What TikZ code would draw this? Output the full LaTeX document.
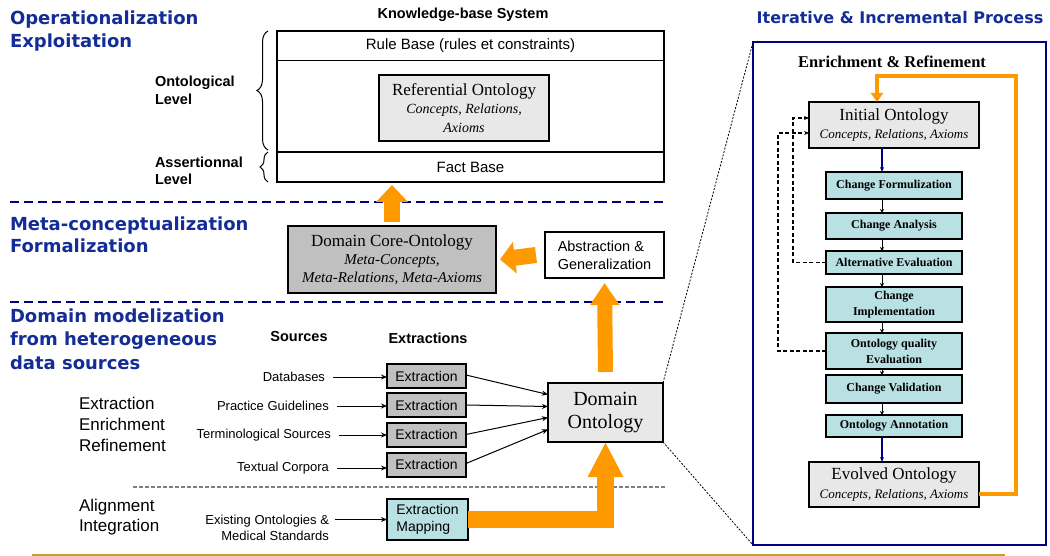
\documentclass[tikz,border=0pt]{standalone}
\usepackage{fontspec}
\setmainfont{Liberation Serif}
\setsansfont{Liberation Sans}
\newfontfamily\headfont{DejaVu Sans}
\usetikzlibrary{arrows.meta,decorations.pathreplacing}
\definecolor{headblue}{RGB}{20,45,150}
\definecolor{navyc}{RGB}{0,0,128}
\definecolor{orangec}{RGB}{255,153,0}
\definecolor{cyanfill}{RGB}{185,225,228}
\definecolor{midgray}{RGB}{192,192,192}
\definecolor{lightgrayc}{RGB}{232,232,232}
\definecolor{goldc}{RGB}{200,160,40}
\newcommand{\fsz}[2]{\fontsize{#1}{#2}\selectfont}
\begin{document}
\begin{tikzpicture}[x=1pt,y=-1pt,
  every node/.style={inner sep=0pt, outer sep=0pt},
  heading/.style={font=\headfont\bfseries\fsz{18}{22.5}, text=headblue, align=left, anchor=west},
  lvl/.style={font=\sffamily\bfseries\fsz{14.5}{18}, align=left, anchor=west},
  phase/.style={font=\sffamily\fsz{17}{21}, align=left, anchor=west},
  kbrow/.style={draw, line width=1pt, minimum width=387pt, minimum height=30pt, font=\sffamily\fsz{15}{18}},
  onto/.style={draw, line width=1.5pt, fill=lightgrayc, align=center},
  extbox/.style={draw, line width=2pt, fill=midgray, minimum width=79pt, minimum height=24pt, font=\sffamily\fsz{14}{17}},
  srclabel/.style={anchor=east, font=\sffamily\fsz{13}{16}, align=right},
  thinarrow/.style={-{Stealth[length=6pt,width=5pt]}, line width=1pt},
  blockarrow/.style={draw=orangec, line width=16pt},
  cyanbox/.style={draw, line width=1.5pt, fill=cyanfill, minimum width=136pt, font=\bfseries\fsz{12}{15}, align=center},
  stepline/.style={-{Stealth[length=4pt,width=4pt]}, line width=0.8pt},
  navyarrow/.style={draw=navyc, line width=1.5pt, -{Stealth[length=5pt,width=4pt]}},
  dashloop/.style={dash pattern=on 4pt off 2.5pt, line width=1.3pt, -{Stealth[length=5pt,width=4pt]}},
  sectionline/.style={draw=navyc, line width=2pt, dash pattern=on 9pt off 5pt},
  zoomline/.style={draw=black, line width=0.8pt, dash pattern=on 2pt off 1.5pt},
  bracestyle/.style={decorate, decoration={brace, amplitude=11pt}, line width=1pt}
]
\useasboundingbox (0,0) rectangle (1050,556);

% ---------- headings
\node[heading] (h1) at (10,31) {Operationalization\\Exploitation};
\node[heading] (h2) at (10,235) {Meta-conceptualization\\Formalization};
\node[heading, font=\headfont\bfseries\fsz{18}{23.5}] (h3) at (10,339) {Domain modelization\\from heterogeneous\\data sources};

% ---------- knowledge base system
\node[font=\sffamily\bfseries\fsz{14.5}{17}] (kbt) at (463,15) {Knowledge-base System};
\node[draw, line width=2pt, minimum width=387pt, minimum height=151pt] (kb) at (470.5,106.5) {};
\node[kbrow] (rule) at (470.5,46) {Rule Base (rules et constraints)};
\node[kbrow, line width=2pt] (fact) at (470.5,167) {Fact Base};
\node[onto, minimum width=170pt, minimum height=66pt, font=\fsz{14}{18.5}] (ref) at (464,108)
  {{\fsz{17}{19}Referential Ontology}\\{\itshape Concepts, Relations,}\\{\itshape Axioms}};

\node[lvl] (ontl) at (155,90) {Ontological\\Level};
\node[lvl, font=\sffamily\bfseries\fsz{14.5}{17}] (asl) at (155,171) {Assertionnal\\Level};
\draw[bracestyle] (268,150) -- (268,31);
\draw[bracestyle, decoration={brace, amplitude=8pt}] (268,182) -- (268,152);

% ---------- separators
\draw[sectionline] (10,202) -- (665,202);
\draw[sectionline] (10,302) -- (665,302);

% ---------- meta level
\node[onto, fill=midgray, minimum width=208pt, minimum height=67pt, font=\fsz{15}{18}] (core) at (392,259.5)
  {{\fsz{17}{18}Domain Core-Ontology}\\{\itshape Meta-Concepts,}\\{\itshape Meta-Relations, Meta-Axioms}};
\node[draw, line width=1.5pt, fill=white, minimum width=119pt, minimum height=46pt, align=left,
  font=\sffamily\fsz{14.5}{18}] (abs) at (604.5,255) {Abstraction \&\\Generalization};

% ---------- domain level
\node[font=\sffamily\bfseries\fsz{14.5}{17}] (srct) at (299,337) {Sources};
\node[font=\sffamily\bfseries\fsz{14.5}{17}] (extt) at (428,338) {Extractions};

\node[phase] (eer) at (79,424) {Extraction\\Enrichment\\Refinement};
\node[phase, font=\sffamily\fsz{17}{20}] (ali) at (79,517) {Alignment\\Integration};

\node[srclabel] (s1) at (325,377) {Databases};
\node[srclabel] (s2) at (329,406) {Practice Guidelines};
\node[srclabel] (s3) at (331,435) {Terminological Sources};
\node[srclabel] (s4) at (329,468) {Textual Corpora};
\node[srclabel] (s5) at (329,528) {Existing Ontologies \&\\Medical Standards};

\node[extbox] (e1) at (426.5,376) {Extraction};
\node[extbox] (e2) at (426.5,405) {Extraction};
\node[extbox] (e3) at (426.5,434.5) {Extraction};
\node[extbox] (e4) at (426.5,464.5) {Extraction};
\node[extbox, fill=cyanfill, minimum width=81pt, minimum height=41pt, align=left] (map) at (427.5,519.5) {Extraction\\Mapping};

\node[onto, line width=2pt, minimum width=115pt, minimum height=59pt, font=\fsz{20}{23}] (dom) at (605.5,412.5) {Domain\\Ontology};

\foreach \s/\e in {s1/e1,s2/e2,s3/e3,s4/e4}
  \draw[thinarrow] ([xshift=8pt]\s.east) -- (\e.west |- \s.east);
\draw[thinarrow] ([xshift=6pt]s5.east |- map.west) -- (map.west);

\draw[thinarrow] ([yshift=1pt]e1.east) -- ([yshift=18pt]dom.west);
\draw[thinarrow] (e2.east) -- ([yshift=6pt]dom.west);
\draw[thinarrow] (e3.east) -- ([yshift=-5pt]dom.west);
\draw[thinarrow] ([yshift=1pt]e4.east) -- ([yshift=-17pt]dom.west);

\draw[draw=gray, line width=1.5pt, dash pattern=on 4pt off 2pt] (133,487) -- (665,487);

% ---------- orange block arrows
\coordinate (kbin) at (core.north |- fact.south);
\draw[blockarrow, -{Triangle[width=31pt,length=17pt]}] ([yshift=4pt]core.north) -- ([yshift=-3pt]kbin);
\draw[blockarrow, -{Triangle[width=31pt,length=15pt]}] ([xshift=-9pt]abs.west) -- ([xshift=4pt]core.east);
\draw[blockarrow, line width=15pt, -{Triangle[width=28pt,length=22pt]}] ([yshift=11pt]dom.north) -- ([yshift=-5pt]abs.south);
\draw[blockarrow, line width=17pt, -{Triangle[width=33pt,length=35pt]}] (map.east) -| (dom.south);

% ---------- right panel
\node[font=\headfont\bfseries\fsz{16}{19}, text=headblue] (rt) at (900,18) {Iterative \& Incremental Process};
\node[draw=navyc, line width=2pt, minimum width=293pt, minimum height=503pt] (panel) at (899.5,293.5) {};
\node[font=\bfseries\fsz{16.5}{19}] (er) at (892,62) {Enrichment \& Refinement};

\node[onto, minimum width=170pt, minimum height=46pt, font=\fsz{13}{18}] (init) at (894,125)
  {{\fsz{17}{18}Initial Ontology}\\{\itshape Concepts, Relations, Axioms}};
\node[cyanbox, minimum height=27pt] (cf) at (894,185.5) {Change Formulization};
\node[cyanbox, minimum height=26pt] (ca) at (894,226) {Change Analysis};
\node[cyanbox, minimum height=23pt] (ae) at (894,262.5) {Alternative Evaluation};
\node[cyanbox, minimum height=35pt, font=\bfseries\fsz{12}{15.5}] (ci) at (894,304.5) {Change\\Implementation};
\node[cyanbox, minimum height=36pt, font=\bfseries\fsz{12}{16}] (oq) at (894,351) {Ontology quality\\Evaluation};
\node[cyanbox, minimum height=28pt] (cv) at (894,389) {Change Validation};
\node[cyanbox, minimum height=22pt] (oa) at (894,426) {Ontology Annotation};
\node[onto, minimum width=170pt, minimum height=45pt, font=\fsz{13}{19}] (evo) at (894,484.5)
  {{\fsz{17}{18}Evolved Ontology}\\{\itshape Concepts, Relations, Axioms}};

\draw[navyarrow] ([xshift=-12pt]init.south) -- ([xshift=-12pt]cf.north);
\foreach \a/\b in {cf/ca,ca/ae,ae/ci,ci/oq,oq/cv,cv/oa}
  \draw[stepline] ([xshift=-12pt]\a.south) -- ([xshift=-12pt]\b.north);
\draw[navyarrow] ([xshift=-12pt]oa.south) -- ([xshift=-12pt]evo.north);

\draw[dashloop] (ae.west) -- ++(-33,0) |- ([yshift=7pt]init.west);
\draw[dashloop] (oq.west) -- ++(-48,0) |- ([yshift=-8pt]init.west);

\coordinate (loopR) at (1016,76);
\draw[draw=orangec, line width=3.5pt, -{Triangle[width=12pt,length=9pt]}]
  ([yshift=-9.5pt]evo.east) -| (loopR) -| ([xshift=-17pt]init.north);

% ---------- zoom lines
\draw[zoomline] (dom.north east) -- (panel.north west);
\draw[zoomline] (dom.south east) -- (panel.south west);

% ---------- bottom rule
\draw[draw=goldc, line width=2pt] (32,555) -- (1005,555);
\end{tikzpicture}
\end{document}
